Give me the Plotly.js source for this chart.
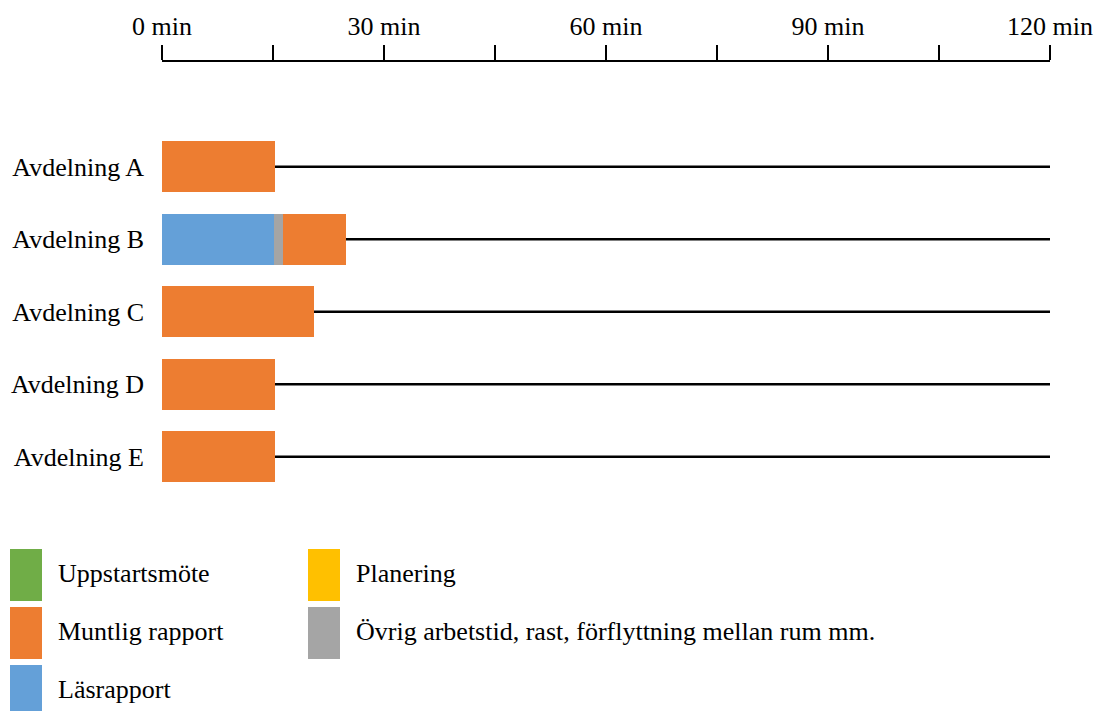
<!DOCTYPE html>
<html>
<head>
<meta charset="utf-8">
<script src="https://cdn.plot.ly/plotly-3.0.1.min.js"></script>
<style>
  html, body { margin: 0; padding: 0; background: #fff; }
  #chart { width: 1096px; height: 711px; }
</style>
</head>
<body>
<div id="chart"></div>
<script>
// Departments (rows) and minutes spent per activity
const categories = ['Avdelning A', 'Avdelning B', 'Avdelning C', 'Avdelning D', 'Avdelning E'];
const uppstartsmote = [0, 0, 0, 0, 0];
const planering = [0, 0, 0, 0, 0];
const lasrapport = [0, 15.1, 0, 0, 0];
const ovrig = [0, 1.3, 0, 0, 0];
const muntlig = [15.3, 8.4, 20.6, 15.3, 15.3];

const xTicks = [0, 15, 30, 45, 60, 75, 90, 105, 120];
const xTickText = ['0 min', '', '30 min', '', '60 min', '', '90 min', '', '120 min'];
const totalMinutes = 120;

const colors = {
  uppstart: '#70AD47',
  planering: '#FFC000',
  las: '#64A0D8',
  ovrig: '#A5A5A5',
  muntlig: '#ED7D31'
};

const FONT = "'Liberation Serif', 'Times New Roman', Times, serif";
const FS = 26;
const W = 1096, H = 711;
const M = { l: 162, r: 46, t: 62, b: 218 };
const plotW = W - M.l - M.r, plotH = H - M.t - M.b;
// pixel position -> paper coordinate helpers for the legend block
const px = x => (x - M.l) / plotW;
const py = y => (H - M.b - y) / plotH;

function barTrace(name, values, color) {
  return {
    type: 'bar', orientation: 'h', name: name,
    y: categories, x: values,
    marker: { color: color, line: { width: 0 } },
    width: 0.7, hoverinfo: 'name+x', showlegend: false
  };
}

const traces = [
  barTrace('Uppstartsmöte', uppstartsmote, colors.uppstart),
  barTrace('Planering', planering, colors.planering),
  barTrace('Läsrapport', lasrapport, colors.las),
  barTrace('Övrig arbetstid, rast, förflyttning mellan rum mm.', ovrig, colors.ovrig),
  barTrace('Muntlig rapport', muntlig, colors.muntlig)
];

// full-length timeline for every department, drawn beneath the bars
const shapes = categories.map(c => ({
  type: 'line', layer: 'below', xref: 'x', yref: 'y',
  x0: 0, x1: totalMinutes, y0: c, y1: c,
  line: { color: '#000', width: 2.5 }
}));

// legend block: two columns of tall swatches with labels
const legendItems = [
  { label: 'Uppstartsmöte', color: colors.uppstart, col: 0, row: 0 },
  { label: 'Muntlig rapport', color: colors.muntlig, col: 0, row: 1 },
  { label: 'Läsrapport', color: colors.las, col: 0, row: 2 },
  { label: 'Planering', color: colors.planering, col: 1, row: 0 },
  { label: 'Övrig arbetstid, rast, förflyttning mellan rum mm.', color: colors.ovrig, col: 1, row: 1 }
];
const colX = [10, 308];
const rowY = [549, 607, 665];
const annotations = [];
legendItems.forEach(it => {
  const x0 = colX[it.col], y0 = rowY[it.row];
  shapes.push({
    type: 'rect', xref: 'paper', yref: 'paper',
    x0: px(x0), x1: px(x0 + 32), y0: py(y0), y1: py(y0 + 52),
    fillcolor: it.color, line: { width: 0 }
  });
  annotations.push({
    xref: 'paper', yref: 'paper', x: px(x0 + 46), y: py(y0 + 24),
    xanchor: 'left', yanchor: 'middle', showarrow: false,
    text: it.label, font: { family: FONT, size: FS, color: '#000' }
  });
});

const layout = {
  width: W, height: H,
  margin: M,
  paper_bgcolor: '#fff', plot_bgcolor: '#fff',
  barmode: 'stack',
  showlegend: false,
  font: { family: FONT, size: FS, color: '#000' },
  xaxis: {
    side: 'top', range: [0, totalMinutes],
    tickmode: 'array', tickvals: xTicks, ticktext: xTickText,
    ticks: 'outside', ticklen: 15, tickwidth: 2, tickcolor: '#000',
    showline: true, linewidth: 2, linecolor: '#000',
    showgrid: false, zeroline: false,
    tickfont: { family: FONT, size: FS, color: '#000' }
  },
  yaxis: {
    type: 'category', categoryarray: categories,
    range: [4.5, -1.446],
    showline: false, showgrid: false, zeroline: false, ticks: '',
    ticklabelstandoff: 17,
    tickfont: { family: FONT, size: FS, color: '#000' }
  },
  shapes: shapes,
  annotations: annotations
};

Plotly.newPlot('chart', traces, layout, { displayModeBar: false, staticPlot: true });
</script>
</body>
</html>
